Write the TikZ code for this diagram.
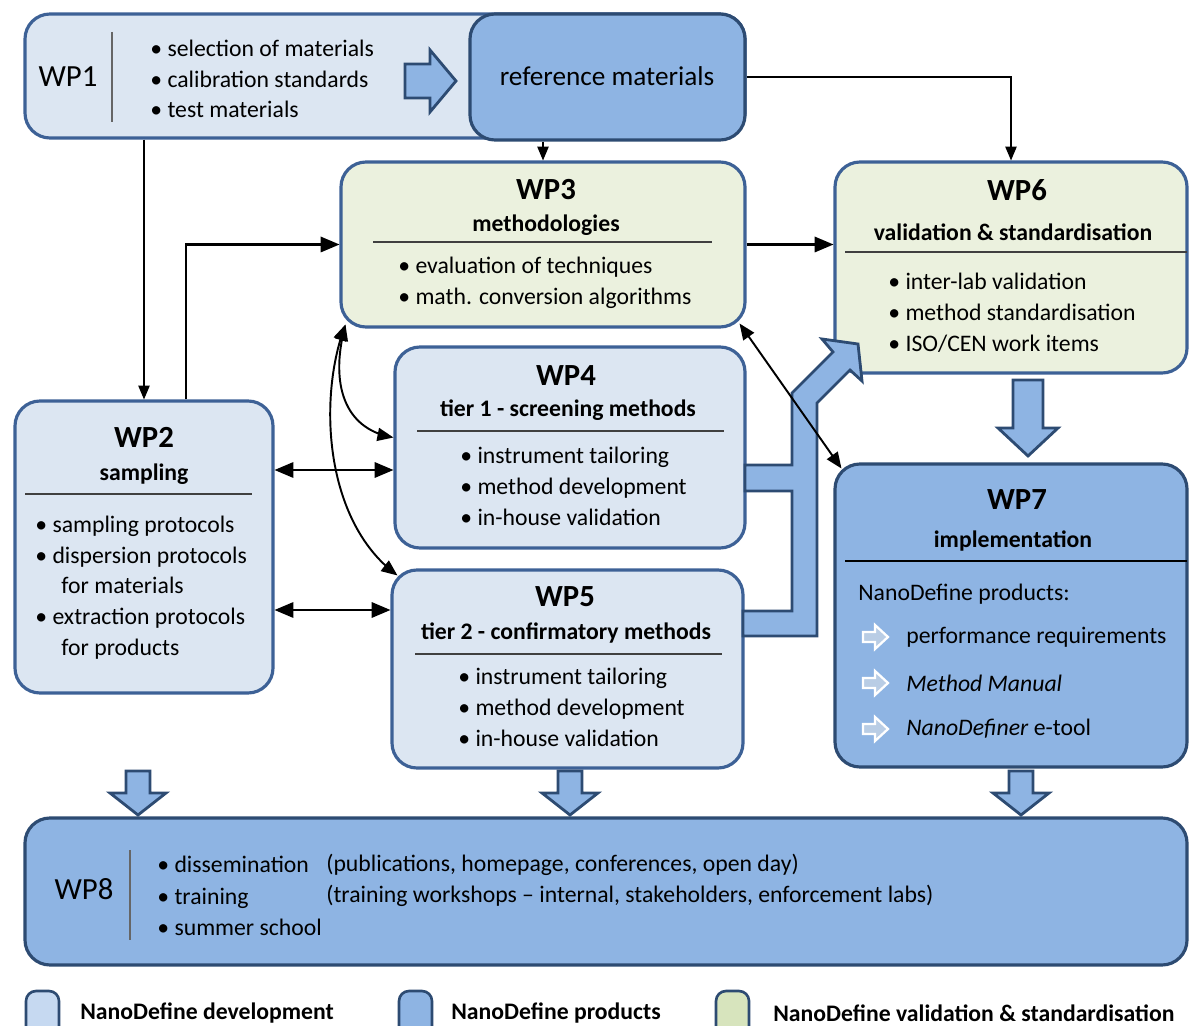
\documentclass[tikz,border=0pt]{standalone}
\usepackage{fontspec}
\setmainfont{Carlito}
\usetikzlibrary{arrows,fit}

\definecolor{devfill}{HTML}{DCE6F2}
\definecolor{prodfill}{HTML}{8EB4E3}
\definecolor{valfill}{HTML}{EBF1DE}
\definecolor{devline}{HTML}{3D6196}
\definecolor{prodline}{HTML}{2D4B72}
\definecolor{legdev}{HTML}{C6D9F1}
\definecolor{legval}{HTML}{D7E4BD}
\definecolor{itemfill}{HTML}{B9CDE5}

\begin{document}
\begin{tikzpicture}[x=0.02cm,y=-0.02cm,>=triangle 45]
	\tikzstyle{devbox} = [draw=devline,line width=1.8pt,fill=devfill,rounded corners=0.5cm,inner sep=0pt];
	\tikzstyle{prodbox} = [draw=prodline,line width=1.8pt,fill=prodfill,rounded corners=0.5cm,inner sep=0pt];
	\tikzstyle{valbox} = [draw=devline,line width=1.8pt,fill=valfill,rounded corners=0.5cm,inner sep=0pt];
	\tikzstyle{legsq} = [draw=prodline,line width=1.5pt,rounded corners=0.2cm,inner sep=0pt];
	\tikzstyle{wphead} = [font=\fontsize{17.5}{20}\selectfont\bfseries,inner sep=0pt];
	\tikzstyle{wplabel} = [font=\fontsize{17.5}{20}\selectfont,inner sep=0pt];
	\tikzstyle{wpsub} = [font=\fontsize{13.5}{16}\selectfont\bfseries,inner sep=0pt];
	\tikzstyle{items} = [font=\fontsize{13.5}{17.5}\selectfont,align=left,anchor=west,inner sep=0pt];
	\tikzstyle{legtxt} = [font=\fontsize{13.5}{16}\selectfont\bfseries,anchor=west,inner sep=0pt];
	\tikzstyle{sep} = [draw=black!75,line width=0.7pt];
	\tikzstyle{link} = [draw=black,line width=0.8pt,->];
	\tikzstyle{biglink} = [draw=black,line width=1.5pt];
	\tikzstyle{blockarrow} = [draw=prodline,line width=1.6pt,fill=prodfill];
	\tikzstyle{itemarrow} = [draw=white,line width=1.3pt,fill=itemfill];
	\clip (0,0) rectangle (1189,1026);

	% work package boxes
	\node[devbox,fit={(25,14) (745,138)}] (wp1) {};
	\node[prodbox,fit={(470,14) (745,140)}] (ref) {};
	\node[valbox,fit={(341,162) (745,327)}] (wp3) {};
	\node[valbox,fit={(835,162) (1187,373)}] (wp6) {};
	\node[devbox,fit={(15,401) (273,693)}] (wp2) {};
	\node[devbox,fit={(395,347) (745,548)}] (wp4) {};
	\node[devbox,fit={(392,570) (743,768)}] (wp5) {};
	\node[prodbox,fit={(835,464) (1187,767)}] (wp7) {};
	\node[prodbox,fit={(25,818) (1187,965)}] (wp8) {};

	% WP1
	\node[wplabel] (wp1t) at (68,77) {WP1};
	\draw[sep,draw=black!60] (112,32) -- (112,122);
	\node[items] (wp1i) at (150,79) {\textbullet~selection of materials\\\textbullet~calibration standards\\\textbullet~test materials};
	\draw[blockarrow] (405,64) -- (430,64) -- (430,50) -- (456,81) -- (430,112) -- (430,98) -- (405,98) -- cycle;
	\node[font=\fontsize{15.5}{18}\selectfont,inner sep=0pt] (reft) at (607,76) {reference materials};

	% WP3
	\node[wphead] (wp3t) at (546,190) {WP3};
	\node[wpsub] (wp3s) at (546,225) {methodologies};
	\draw[sep] (373,242) -- (712,242);
	\node[items] (wp3i) at (398,282.5) {\textbullet~evaluation of techniques\\\textbullet~math. conversion algorithms};

	% WP6
	\node[wphead] (wp6t) at (1017,190) {WP6};
	\node[wpsub] (wp6s) at (1013,232) {validation \& standardisation};
	\draw[sep] (845,252) -- (1187,252);
	\node[items] (wp6i) at (888,313) {\textbullet~inter-lab validation\\\textbullet~method standardisation\\\textbullet~ISO/CEN work items};

	% WP2
	\node[wphead] (wp2t) at (144,437) {WP2};
	\node[wpsub] (wp2s) at (144,474) {sampling};
	\draw[sep] (25,494) -- (252,494);
	\node[items] (wp2i) at (35,587.5) {\textbullet~sampling protocols\\\textbullet~dispersion protocols\\\hspace*{1.1em}for materials\\\textbullet~extraction protocols\\\hspace*{1.1em}for products};

	% WP4
	\node[wphead] (wp4t) at (566,376) {WP4};
	\node[wpsub] (wp4s) at (568,410) {tier 1 - screening methods};
	\draw[sep] (417,431) -- (724,431);
	\node[items] (wp4i) at (460,486.5) {\textbullet~instrument tailoring\\\textbullet~method development\\\textbullet~in-house validation};

	% WP5
	\node[wphead] (wp5t) at (565,597) {WP5};
	\node[wpsub] (wp5s) at (566,633) {tier 2 - confirmatory methods};
	\draw[sep] (415,654) -- (722,654);
	\node[items] (wp5i) at (458,707.5) {\textbullet~instrument tailoring\\\textbullet~method development\\\textbullet~in-house validation};

	% WP7
	\node[wphead] (wp7t) at (1017,500) {WP7};
	\node[wpsub] (wp7s) at (1013,541) {implementation};
	\draw[sep,draw=black] (845,561) -- (1187,561);
	\node[items] (wp7p) at (858,594) {NanoDefine products:};
	\foreach \iy in {637,683,729}
		\draw[itemarrow] (863,\iy-5) -- (875,\iy-5) -- (875,\iy-12) -- (888,\iy) -- (875,\iy+12) -- (875,\iy+5) -- (863,\iy+5) -- cycle;
	\node[items] (wp7a) at (906,637) {performance requirements};
	\node[items] (wp7b) at (906,683) {\textit{Method Manual}};
	\node[items] (wp7c) at (906,729) {\textit{NanoDefiner} e-tool};

	% WP8
	\node[wplabel] (wp8t) at (84,889) {WP8};
	\draw[sep,draw=black!60] (130,850) -- (130,940);
	\node[items,font=\fontsize{13.5}{18}\selectfont] (wp8l) at (157,896) {\textbullet~dissemination\\\textbullet~training\\\textbullet~summer school};
	\node[items,font=\fontsize{13.5}{18}\selectfont] (wp8r) at (326,880.5) {(publications, homepage, conferences, open day)\\(training workshops – internal, stakeholders, enforcement labs)};

	% block arrows
	\draw[blockarrow] (745,465) -- (792,465) -- (792,393) -- (833,352) -- (822,339) -- (858,344) -- (862,381) -- (850,370) -- (817,403) -- (817,636) -- (743,636) -- (743,611) -- (792,611) -- (792,491) -- (745,491) -- cycle;
	\draw[blockarrow] (1013,380) -- (1043,380) -- (1043,428) -- (1058,428) -- (1028,456) -- (998,428) -- (1013,428) -- cycle;
	\foreach \cx in {138,570,1021}
		\draw[blockarrow] (\cx-12,771) -- (\cx+12,771) -- (\cx+12,793) -- (\cx+28,793) -- (\cx,815) -- (\cx-28,793) -- (\cx-12,793) -- cycle;

	% connectors
	\coordinate (r1) at (0,470);
	\coordinate (r2) at (0,610);
	\coordinate (wp3sw) at ([shift={(6,-4)}]wp3.south west);
	\draw[link] (wp1.south -| wp2.north) -- (wp2.north);
	\draw[link] (ref.south -| wp3.north) -- (wp3.north);
	\draw[link] (ref.east) -| (wp6.north);
	\draw[biglink,->] ([xshift=0.84cm]wp2.north) |- (wp3.west);
	\draw[biglink,->] (wp3.east) -- (wp3.east -| wp6.west);
	\draw[biglink,<->] (wp2.east |- r1) -- (wp4.west |- r1);
	\draw[biglink,<->] (wp2.east |- r2) -- (wp5.west |- r2);
	\draw[biglink,line width=1.1pt,<->] (wp3sw) .. controls (330,385) and (345,428) .. ([yshift=0.2cm]wp4.west);
	\draw[biglink,line width=1.1pt,<->] (wp3sw) .. controls (318,400) and (325,520) .. ([shift={(7,7)}]wp5.north west);
	\draw[biglink,line width=1.1pt,<->] ([shift={(-7,-5)}]wp3.south east) -- ([shift={(8,6)}]wp7.north west);

	% legend
	\node[legsq,fill=legdev,fit={(26,991) (59,1045)}] (legdev) {};
	\node[legtxt] (legdevt) at (80,1013) {NanoDefine development};
	\node[legsq,fill=prodfill,fit={(399,991) (432,1045)}] (legprod) {};
	\node[legtxt] (legprodt) at (451,1013) {NanoDefine products};
	\node[legsq,fill=legval,fit={(716,991) (749,1045)}] (legval) {};
	\node[legtxt] (legvalt) at (773,1013) {NanoDefine validation \& standardisation};
\end{tikzpicture}
\end{document}
